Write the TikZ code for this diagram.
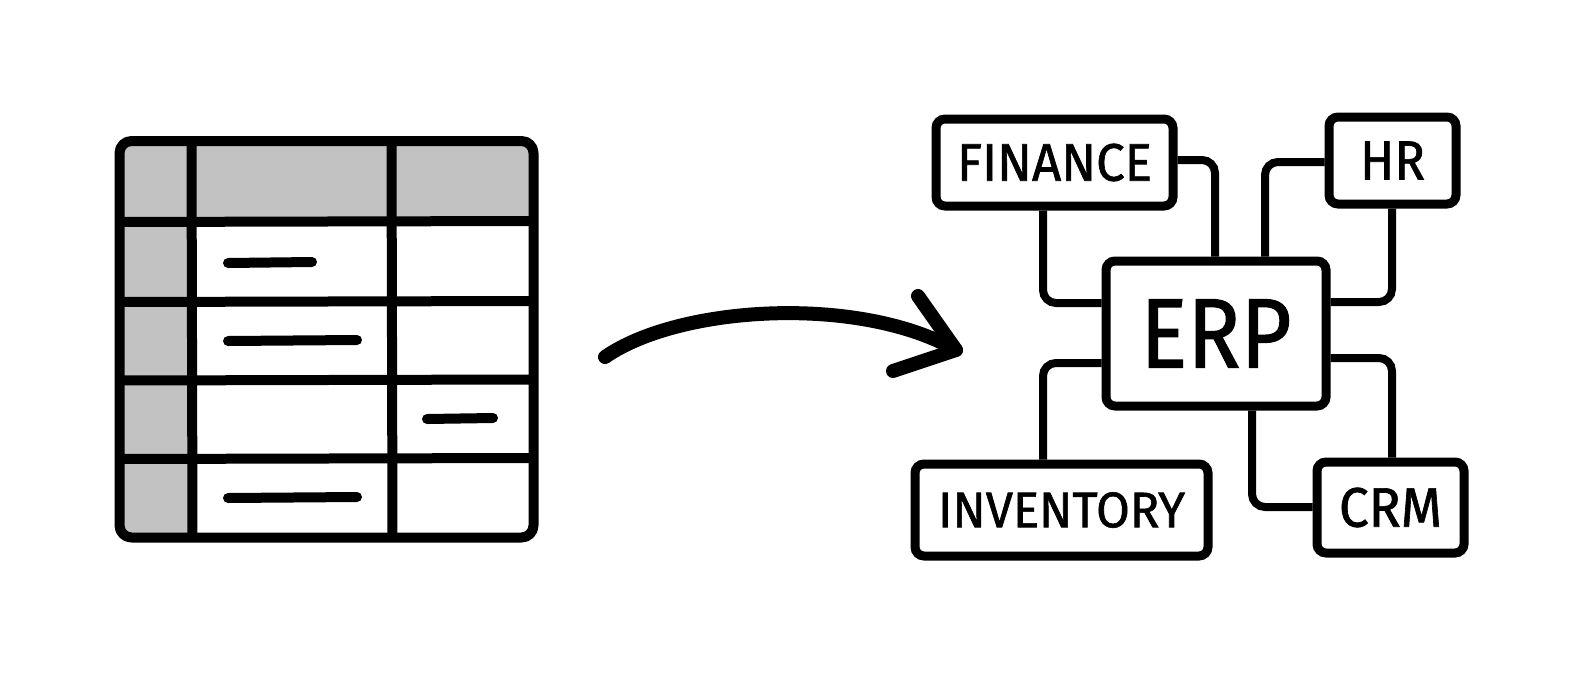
\documentclass[tikz,border=0pt]{standalone}
\usepackage{fontspec}
\setmainfont{Fira Sans}
\newfontfamily\lblfont{Fira Sans}[FakeBold=1.2]
\usepackage{graphicx}
\definecolor{cellgrey}{HTML}{C2C2C2}
\tikzset{
  ink/.style={line width=10pt, line cap=round, line join=round},
  dashmark/.style={line width=10pt, line cap=round},
  module/.style={draw, line width=9pt, rounded corners=9pt, fill=white, inner sep=0pt},
  conn/.style={line width=8pt, rounded corners=13pt},
  bigarrow/.style={line width=14pt, line cap=round, line join=round}
}
\newcommand{\fitlbl}[3]{\resizebox{#1pt}{#2pt}{\lblfont #3}}
\begin{document}
\begin{tikzpicture}[x=1pt,y=-1pt]
\useasboundingbox[fill=white] (0,0) rectangle (1584,672);
% ---------- spreadsheet ----------
\fill[cellgrey] (119,141) rectangle (533,222);
\fill[cellgrey] (119,222) rectangle (192,537);
\draw[ink] (191.5,142) -- (192.5,536);
\draw[ink] (391.5,142) -- (392.5,536);
\draw[ink] (120,222) -- (532,221);
\draw[ink] (120,302) -- (532,301);
\draw[ink] (120,380.5) -- (532,379.5);
\draw[ink] (120,459) -- (532,458);
\draw[ink, rounded corners=12pt] (119.5,141) rectangle (533.5,537.5);
\draw[dashmark] (228,263) -- (312,262);
\draw[dashmark] (228,341) -- (357,340);
\draw[dashmark] (427,419) -- (493,418);
\draw[dashmark] (228,498) -- (357,497);
% ---------- arrow ----------
\coordinate (a0) at (605,357);
\coordinate (a1) at (956,350);
\coordinate (h1) at (918,296);
\coordinate (h2) at (893,371);
\draw[bigarrow] (a0) .. controls (680,305) and (860,295) .. (a1);
\draw[bigarrow] (h1) -- (a1) -- (h2);
% ---------- modules ----------
\node[module, minimum width=237pt, minimum height=87pt] (fin) at (1054.5,162.5) {\fitlbl{195}{37}{FINANCE}};
\node[module, minimum width=127pt, minimum height=87pt] (hr) at (1392.5,160.5) {\fitlbl{65}{38}{HR}};
\node[module, minimum width=220pt, minimum height=145pt] (erp) at (1216,333.5) {\fitlbl{151}{68}{ERP}};
\node[module, minimum width=293pt, minimum height=92pt] (inv) at (1061.5,510) {\fitlbl{247}{35}{INVENTORY}};
\node[module, minimum width=147pt, minimum height=91pt] (crm) at (1390.5,507.5) {\fitlbl{103}{39}{CRM}};
% ---------- connectors ----------
\draw[conn] ([yshift=2.5pt]fin.east) -| ([xshift=-1pt]erp.north);
\draw[conn] ([xshift=-11.5pt]fin.south) |- ([yshift=30.5pt]erp.west);
\draw[conn] ([yshift=-1.5pt]hr.west) -| ([xshift=49pt]erp.north);
\draw[conn] ([xshift=-0.5pt]hr.south) |- ([yshift=31.5pt]erp.east);
\draw[conn] ([yshift=-29.5pt]erp.west) -| ([xshift=-18.5pt]inv.north);
\draw[conn] ([yshift=-24.5pt]erp.east) -| ([xshift=1.5pt]crm.north);
\draw[conn] ([xshift=36pt]erp.south) |- ([yshift=0.5pt]crm.west);
\end{tikzpicture}
\end{document}
